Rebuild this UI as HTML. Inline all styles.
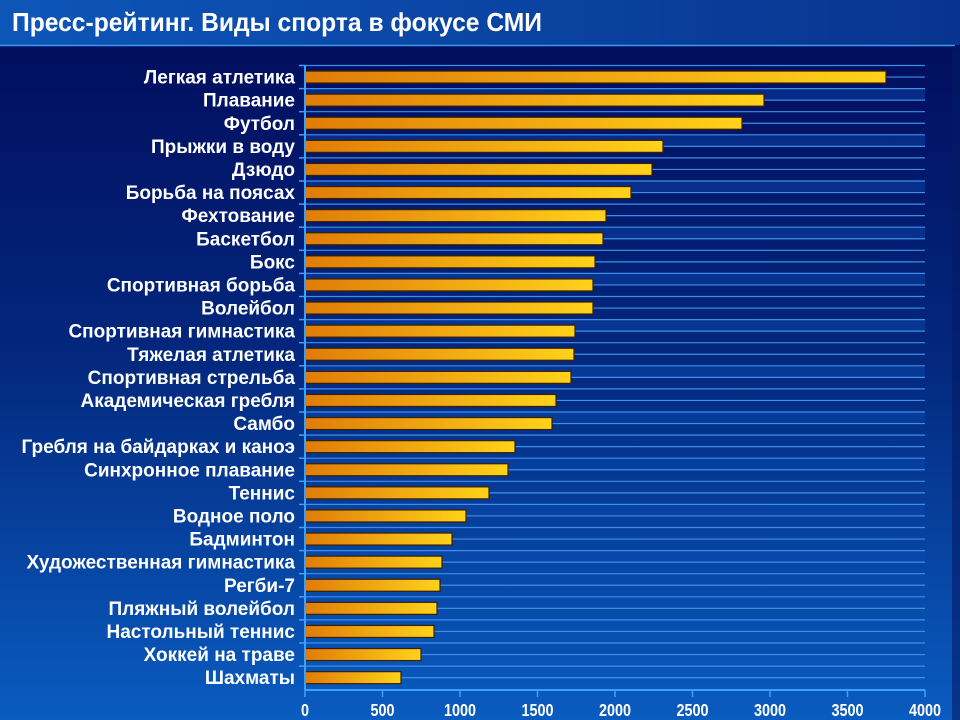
<!DOCTYPE html>
<html><head><meta charset="utf-8"><style>
html,body{margin:0;padding:0;width:960px;height:720px;overflow:hidden;background:#0a3d9c;}
text{font-family:"Liberation Sans",sans-serif;font-weight:bold;fill:#fff;}
</style></head><body>
<svg width="960" height="720" viewBox="0 0 960 720" xmlns="http://www.w3.org/2000/svg">
<defs>
<linearGradient id="tb" x1="0" y1="0" x2="1" y2="0"><stop offset="0" stop-color="#0d56b8"/><stop offset="1" stop-color="#08348f"/></linearGradient>
<linearGradient id="pb" x1="0" y1="0" x2="0" y2="1"><stop offset="0" stop-color="#010a5a"/><stop offset="0.5" stop-color="#03287e"/><stop offset="1" stop-color="#0a5cc0"/></linearGradient>
<linearGradient id="bar" x1="0" y1="0" x2="1" y2="0"><stop offset="0" stop-color="#e07c08"/><stop offset="1" stop-color="#ffd21a"/></linearGradient>
</defs>
<rect width="960" height="720" fill="url(#pb)"/>
<rect width="960" height="45" fill="url(#tb)"/>
<line x1="0" y1="45.5" x2="955" y2="45.5" stroke="#3a9af0" stroke-width="1.5"/>
<rect x="952" y="46" width="8" height="674" fill="#031a66" opacity="0.6"/>
<text x="12" y="31" font-size="26" textLength="530" lengthAdjust="spacingAndGlyphs">Пресс-рейтинг. Виды спорта в фокусе СМИ</text>
<g id="grid" stroke="#3d8fe6" stroke-width="1.2"></g>
<g id="bars"></g>
<line x1="305" y1="65" x2="305" y2="690" stroke="#3da0ff" stroke-width="2"/>
<line x1="305" y1="690" x2="925" y2="690" stroke="#3da0ff" stroke-width="2"/>
<g id="ticks"></g>
</svg>
<script>
var ns="http://www.w3.org/2000/svg";
function el(n,a,p,t){var e=document.createElementNS(ns,n);for(var k in a)e.setAttribute(k,a[k]);if(t)e.textContent=t;document.getElementById(p).appendChild(e);return e;}
var names=["Легкая атлетика","Плавание","Футбол","Прыжки в воду","Дзюдо","Борьба на поясах","Фехтование","Баскетбол","Бокс","Спортивная борьба","Волейбол","Спортивная гимнастика","Тяжелая атлетика","Спортивная стрельба","Академическая гребля","Самбо","Гребля на байдарках и каноэ","Синхронное плавание","Теннис","Водное поло","Бадминтон","Художественная гимнастика","Регби-7","Пляжный волейбол","Настольный теннис","Хоккей на траве","Шахматы"];
var ends=[886,764,742,663,652,631,606,603,595,593,593,575,574,571,556,552,515,508,489,466,452,442,440,437,434,421,401];
var pitch=23.1,y0=65.5;
for(var i=0;i<54;i++){var y=y0+i*pitch/2; if(i%4==2) el("rect",{x:305,y:y,width:620,height:pitch/2,fill:"#0b4ab0",opacity:0.45,stroke:"none"},"grid"); el("line",{x1:305,y1:y,x2:925,y2:y},"grid");}
for(var i=0;i<27;i++){var cy=y0+i*pitch+pitch/2;
el("rect",{x:305,y:cy-6,width:ends[i]-305,height:12,fill:"url(#bar)",stroke:"#3a2000","stroke-width":1.2},"bars");
el("line",{x1:299,y1:cy-pitch/2,x2:305,y2:cy-pitch/2,stroke:"#3da0ff","stroke-width":1.5},"bars");
el("text",{x:295,y:cy+6.5,"font-size":19,"text-anchor":"end",transform:"translate(295 0) scale(1.0 1) translate(-295 0)"},"bars",names[i]);}
for(var k=0;k<=8;k++){var x=305+k*77.5;
el("line",{x1:x,y1:690,x2:x,y2:697,stroke:"#3da0ff","stroke-width":1.5},"ticks");
el("text",{x:x,y:716,"font-size":18,"text-anchor":"middle",transform:"translate("+x+" 0) scale(0.8 1) translate("+(-x)+" 0)"},"ticks",String(k*500));}
</script>
</body></html>
